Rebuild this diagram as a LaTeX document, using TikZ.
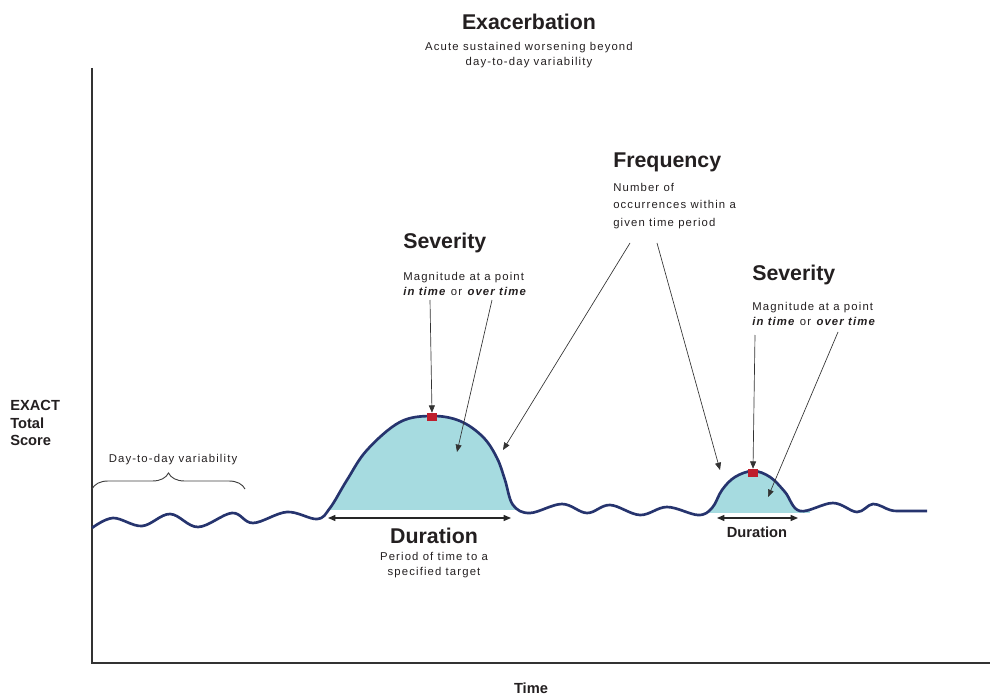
\documentclass[tikz,border=0pt]{standalone}
\usepackage{fontspec}
\setmainfont{Liberation Sans}
\newfontfamily\notefont[LetterSpace=10]{Liberation Sans}
\usetikzlibrary{arrows.meta,positioning,decorations.pathreplacing}

\definecolor{waveblue}{RGB}{38,52,110}
\definecolor{humpcyan}{RGB}{166,219,224}
\definecolor{peakred}{RGB}{190,30,45}
\definecolor{inkgray}{RGB}{35,31,32}

% EXACT score trace, in picture pixels
\def\wavepath{plot[smooth, tension=0.6] coordinates {
  (92,528) (113,518) (142,526) (170,514) (198,527) (232,513) (253,523) (287,512) (317,519)
  (330,508) (347,480) (367,450) (400,422) (432,416) (460,421) (483,437) (497,458) (505,480) (513,505)
  (530,513) (562,504) (587,513) (610,505) (640,515) (667,507) (698,515) (712,508)
  (722,490) (735,477) (753,471) (770,477) (785,492) (800,511)
  (833,503) (857,512) (873,504) (890,510) (900,511) (927,511)}}

\begin{document}
\begin{tikzpicture}[x=0.75pt, y=-0.75pt,
    head/.style = {font=\fontsize{16}{18}\selectfont\bfseries, text=inkgray, inner sep=0pt},
    note/.style = {font=\notefont\fontsize{8.5}{11.5}\selectfont, text=inkgray, inner sep=0pt},
    axislbl/.style = {font=\fontsize{11}{13}\selectfont\bfseries, text=inkgray, inner sep=0pt, align=left},
    peak/.style = {fill=peakred, minimum width=7.5pt, minimum height=6pt, inner sep=0pt},
    pointer/.style = {-{Triangle[length=5.5pt,width=4.5pt]}, line width=0.5pt, draw=black!80},
    span/.style = {{Triangle[length=5.5pt,width=4.5pt]}-{Triangle[length=5.5pt,width=4.5pt]}, line width=0.9pt, draw=black!85}]
  \useasboundingbox (0,0) rectangle (992,695);

  % axes
  \draw[line width=0.8pt, black!80] (92,68) -- (92,663) -- (990,663);
  \node[axislbl, anchor=west] (score) at (10,423) {EXACT\\Total\\Score};
  \node[axislbl] (time) at (531,688) {Time};

  % humps
  \begin{scope}
    \clip (320,380) rectangle (520,509);
    \fill[humpcyan] \wavepath -- (927,600) -- (92,600) -- cycle;
  \end{scope}
  \begin{scope}
    \clip (700,440) rectangle (810,512);
    \fill[humpcyan] \wavepath -- (927,600) -- (92,600) -- cycle;
  \end{scope}
  \draw[waveblue, line width=2pt, line join=round] \wavepath;

  \node[peak] (peakA) at (432,417) {};
  \node[peak] (peakB) at (753,473) {};

  % title
  \node[head] (exac) at (529,22) {Exacerbation};
  \node[note, align=center, anchor=north] (exacnote) at (529,42) {Acute sustained worsening beyond\\day-to-day variability};

  % day-to-day
  \node[note] (daynote) at (173,460) {Day-to-day variability};
  \draw[black!75, line width=0.7pt, decorate, decoration={brace, amplitude=12pt}] (92,489) -- (245,489);

  % severity, first hump
  \node[head, anchor=west] (sevA) at (403,243) {Severity};
  \node[note, align=left, anchor=north west] (sevAnote) at (403,272)
    {Magnitude at a point\\\textbf{\textit{in time}} or \textbf{\textit{over time}}};
  \coordinate (sevAa) at (430,300);
  \coordinate (sevAb) at (492,300);
  \coordinate (inA) at (457,452);
  \draw[pointer] (sevAa) -- (peakA.north);
  \draw[pointer] (sevAb) -- (inA);

  % frequency
  \node[head, anchor=west] (freq) at (613,162) {Frequency};
  \node[note, align=left, anchor=north west, font=\notefont\fontsize{8.5}{13}\selectfont] (freqnote) at (613,183)
    {Number of\\occurrences within a\\given time period};
  \coordinate (freqa) at (630,243);
  \coordinate (freqb) at (657,243);
  \coordinate (sideA) at (503,450);
  \coordinate (sideB) at (720,470);
  \draw[pointer] (freqa) -- (sideA);
  \draw[pointer] (freqb) -- (sideB);

  % severity, second hump
  \node[head, anchor=west] (sevB) at (752,275) {Severity};
  \node[note, align=left, anchor=north west] (sevBnote) at (752,302)
    {Magnitude at a point\\\textbf{\textit{in time}} or \textbf{\textit{over time}}};
  \coordinate (sevBa) at (755,335);
  \coordinate (sevBb) at (838,332);
  \coordinate (inB) at (768,497);
  \draw[pointer] (sevBa) -- (peakB.north);
  \draw[pointer] (sevBb) -- (inB);

  % durations
  \coordinate (durAl) at (328,518);
  \coordinate (durAr) at (511,518);
  \draw[span] (durAl) -- (durAr);
  \node[head] (durA) at (434,536) {Duration};
  \node[note, align=center, anchor=north] (durAnote) at (434,552) {Period of time to a\\specified target};

  \coordinate (durBl) at (717,518);
  \coordinate (durBr) at (798,518);
  \draw[span] (durBl) -- (durBr);
  \node[head, font=\fontsize{11}{13}\selectfont\bfseries] (durB) at (757,532) {Duration};
\end{tikzpicture}
\end{document}
